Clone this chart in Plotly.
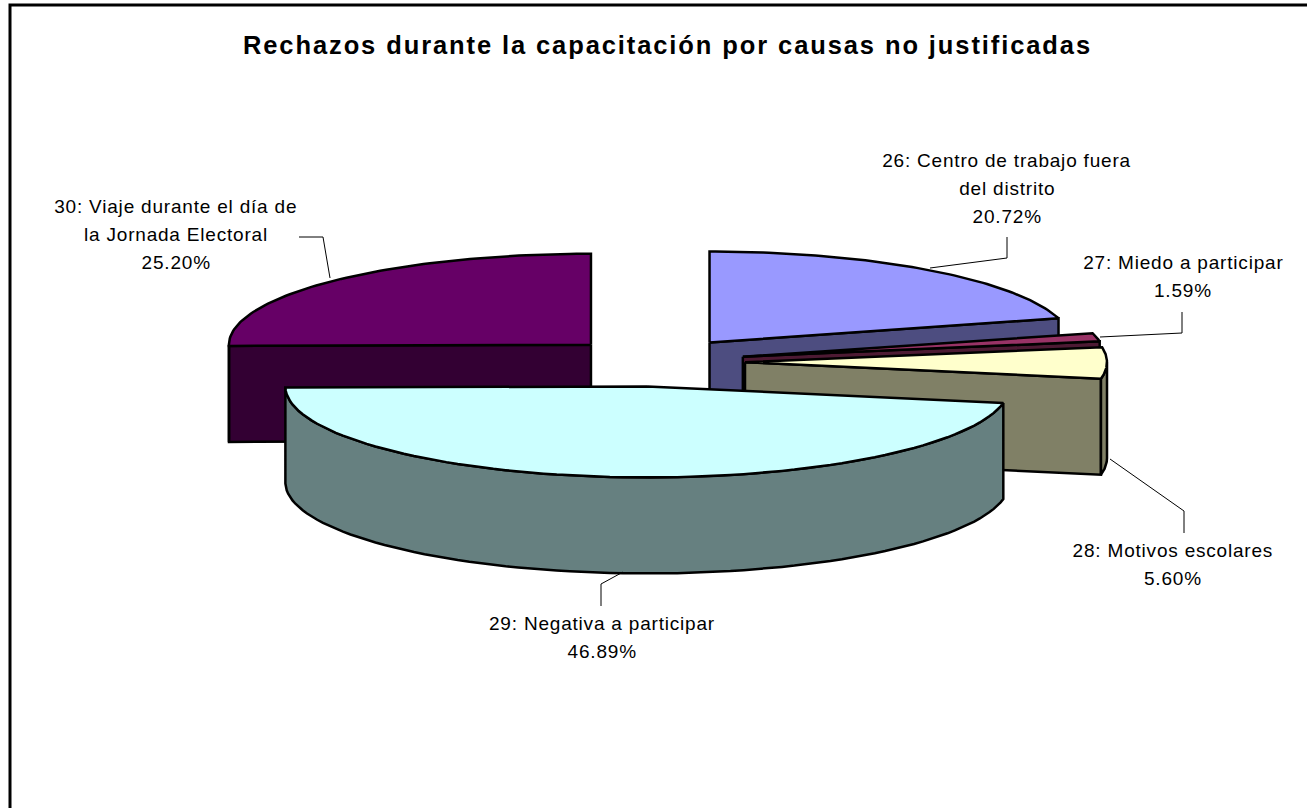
import numpy as np
import plotly.graph_objects as go

categories = ['26: Centro de trabajo fuera<br>del distrito', '27: Miedo a participar',
              '28: Motivos escolares', '29: Negativa a participar',
              '30: Viaje durante el día de<br>la Jornada Electoral']
percent_values = [20.72, 1.59, 5.60, 46.89, 25.20]

top_colors = ['#9999FF', '#993366', '#FFFFCC', '#CCFFFF', '#660066']
side_colors = ['#4D4D80', '#4D1A33', '#808066', '#668080', '#330033']

title_text = 'Rechazos durante la capacitación por causas no justificadas'

# pie geometry in page pixels, the axes below map 1:1 to the window
cx, cy = 655, 362
rx, ry = 362, 91
depth = 96
explode = 90
explode_tilt = 0.2725

# centre x and first line y of each label
label_pos = [(1007, 160), (1183, 262), (1173, 550), (602, 623), (176, 206)]
line_step = 28
leader_lines = [
    [(1007, 237), (1007, 258), (930, 268)],
    [(1182, 312), (1182, 333), (1100, 337)],
    [(1184, 533), (1184, 511), (1110, 459)],
    [(601, 606), (601, 584), (623, 572)],
    [(299, 237), (323, 237), (330, 278)],
]

fig = go.Figure()


def add_poly(xs, ys, color):
    fig.add_trace(go.Scatter(x=xs, y=ys, mode='lines', fill='toself', fillcolor=color,
                             line=dict(color='black', width=2.5), hoverinfo='skip', showlegend=False))


def rim(ax, ay, a0, a1):
    t = np.radians(np.linspace(a0, a1, 80))
    return ax + rx * np.sin(t), ay - ry * np.cos(t)


fractions = np.array(percent_values) / sum(percent_values)
edges = np.concatenate([[0], np.cumsum(fractions) * 360])

# back slices first, the big front slice last
for i in [4, 0, 1, 2, 3]:
    a0, a1 = edges[i], edges[i + 1]
    mid = np.radians((a0 + a1) / 2)
    ax = cx + explode * np.sin(mid)
    ay = cy - explode * np.cos(mid) * explode_tilt

    # cut faces that look towards the viewer
    for a, visible in [(a0, np.sin(np.radians(a0)) < -0.01), (a1, np.sin(np.radians(a1)) > 0.01)]:
        if visible:
            ex, ey = rim(ax, ay, a, a)
            add_poly([ax, ex[0], ex[0], ax, ax], [ay, ey[0], ey[0] + depth, ay + depth, ay], side_colors[i])

    # outer wall, only the front half of the ellipse shows
    f0, f1 = max(a0, 90), min(a1, 270)
    if f0 < f1:
        wx, wy = rim(ax, ay, f0, f1)
        add_poly(np.concatenate([wx, wx[::-1], wx[:1]]),
                 np.concatenate([wy, wy[::-1] + depth, wy[:1]]), side_colors[i])

    tx, ty = rim(ax, ay, a0, a1)
    add_poly(np.concatenate([[ax], tx, [ax]]), np.concatenate([[ay], ty, [ay]]), top_colors[i])

for line in leader_lines:
    fig.add_trace(go.Scatter(x=[p[0] for p in line], y=[p[1] for p in line], mode='lines',
                             line=dict(color='black', width=1), hoverinfo='skip', showlegend=False))

# one annotation per line, plotly's own line height is too tight here
for name, value, pos in zip(categories, percent_values, label_pos):
    for n, text in enumerate(name.split('<br>') + [f'{value:.2f}%']):
        fig.add_annotation(x=pos[0], y=pos[1] + n * line_step, text=text, showarrow=False,
                           font=dict(family='Liberation Sans', size=19, color='black'))

fig.add_annotation(x=667, y=45, text=f'<b>{title_text}</b>', showarrow=False,
                   font=dict(family='Liberation Sans', size=25.5, color='black'))

# chart frame runs off the page on the right and at the bottom
fig.add_trace(go.Scatter(x=[10, 10, 1320], y=[820, 5, 5], mode='lines', line=dict(color='black', width=3),
                         hoverinfo='skip', showlegend=False))

fig.update_xaxes(range=[0, 1307], visible=False)
fig.update_yaxes(range=[808, 0], visible=False)
fig.update_layout(width=1307, height=808, margin=dict(l=0, r=0, t=0, b=0),
                  paper_bgcolor='white', plot_bgcolor='white', showlegend=False)

# page margin off, and the wide letter spacing of the original
post_script = """
document.body.style.margin = '0';
document.querySelectorAll('.annotation-text').forEach(function (t) {
    t.style.letterSpacing = parseFloat(t.style.fontSize) > 20 ? '1.9px' : '0.8px';
});
"""
fig.write_html('out.html', post_script=post_script, config={'displayModeBar': False})
